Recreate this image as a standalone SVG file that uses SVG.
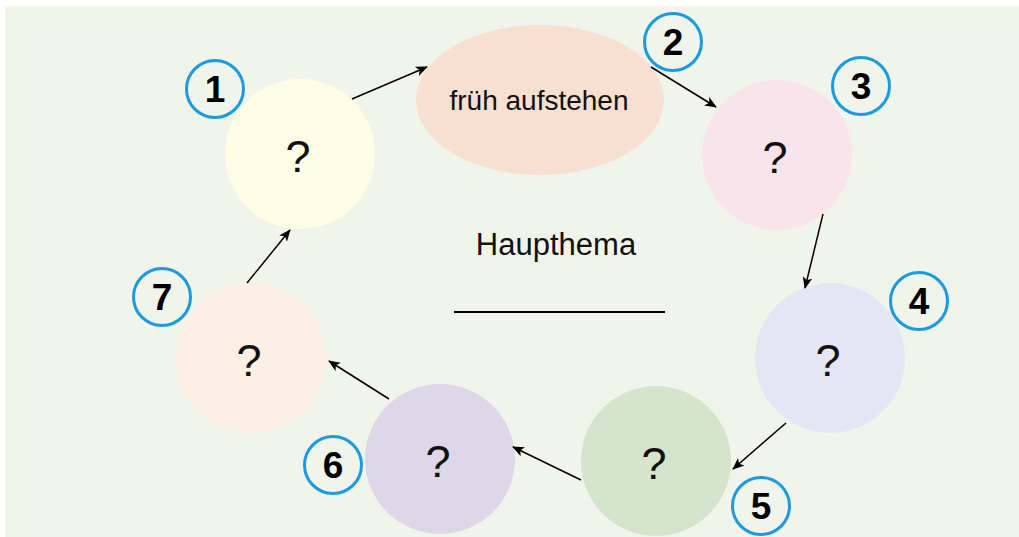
<svg xmlns="http://www.w3.org/2000/svg" width="1019" height="537" viewBox="0 0 1019 537">
  <defs>
    <marker id="arrow" viewBox="0 0 12 10" refX="11" refY="5" markerWidth="12" markerHeight="10" markerUnits="userSpaceOnUse" orient="auto">
      <path d="M0,0 L12,5 L0,10 L3,5 Z" fill="#000"/>
    </marker>
  </defs>
  <style>
    .q { font-family: "Liberation Sans", Arial, sans-serif; font-size: 45px; text-anchor: middle; fill: #111; }
    .lbl { font-family: "Liberation Sans", Arial, sans-serif; font-size: 28px; text-anchor: middle; fill: #111; }
    .title { font-family: "Liberation Sans", Arial, sans-serif; font-size: 31px; text-anchor: middle; fill: #111; }
    .badge circle { fill: none; stroke: #1a9be0; stroke-width: 3; }
    .badge text { font-family: "Liberation Sans", Arial, sans-serif; font-size: 37px; font-weight: bold; text-anchor: middle; fill: #000; }
    .conn line { stroke: #000; stroke-width: 1.5; marker-end: url(#arrow); }
  </style>

  <rect x="5" y="6" width="1014" height="531" fill="#f1f4ea"/>

  <!-- central title -->
  <g id="title">
    <text x="556" y="255" class="title">Haupthema</text>
    <line x1="454" y1="312" x2="665" y2="312" stroke="#000" stroke-width="2"/>
  </g>

  <g id="node1">
    <circle cx="300" cy="154" r="75" fill="#fefee6"/>
    <text x="298" y="172" class="q">?</text>
  </g>
  <g id="node2">
    <ellipse cx="540" cy="100" rx="124" ry="75" fill="#f7dfd2"/>
    <text x="539" y="110" class="lbl">früh aufstehen</text>
  </g>
  <g id="node3">
    <circle cx="777" cy="155" r="75" fill="#fae4ec"/>
    <text x="775" y="173" class="q">?</text>
  </g>
  <g id="node4">
    <circle cx="830" cy="358" r="75" fill="#e6e5f3"/>
    <text x="828" y="376" class="q">?</text>
  </g>
  <g id="node5">
    <circle cx="656" cy="461" r="75" fill="#d6e4cb"/>
    <text x="654" y="479" class="q">?</text>
  </g>
  <g id="node6">
    <circle cx="440" cy="459" r="75" fill="#ddd7e8"/>
    <text x="438" y="477" class="q">?</text>
  </g>
  <g id="node7">
    <circle cx="251" cy="358" r="75" fill="#fcefe4"/>
    <text x="249" y="376" class="q">?</text>
  </g>

  <!-- step numbers -->
  <g id="badge1" class="badge"><circle cx="215" cy="89" r="28.5"/><text x="215" y="102">1</text></g>
  <g id="badge2" class="badge"><circle cx="673" cy="42" r="28.5"/><text x="673" y="55">2</text></g>
  <g id="badge3" class="badge"><circle cx="861" cy="86" r="28.5"/><text x="861" y="99">3</text></g>
  <g id="badge4" class="badge"><circle cx="919" cy="301" r="28.5"/><text x="919" y="314">4</text></g>
  <g id="badge5" class="badge"><circle cx="761" cy="506" r="28.5"/><text x="761" y="519">5</text></g>
  <g id="badge6" class="badge"><circle cx="333" cy="465" r="28.5"/><text x="333" y="478">6</text></g>
  <g id="badge7" class="badge"><circle cx="162" cy="297" r="28.5"/><text x="162" y="310">7</text></g>

  <g id="connectors" class="conn">
    <line x1="352" y1="99" x2="427" y2="67"/>
    <line x1="651" y1="67" x2="716" y2="107"/>
    <line x1="823" y1="214" x2="805" y2="288"/>
    <line x1="786" y1="423" x2="733" y2="469"/>
    <line x1="581" y1="480" x2="513" y2="447"/>
    <line x1="389" y1="399" x2="329" y2="361"/>
    <line x1="247" y1="283" x2="290" y2="230"/>
  </g>
</svg>
